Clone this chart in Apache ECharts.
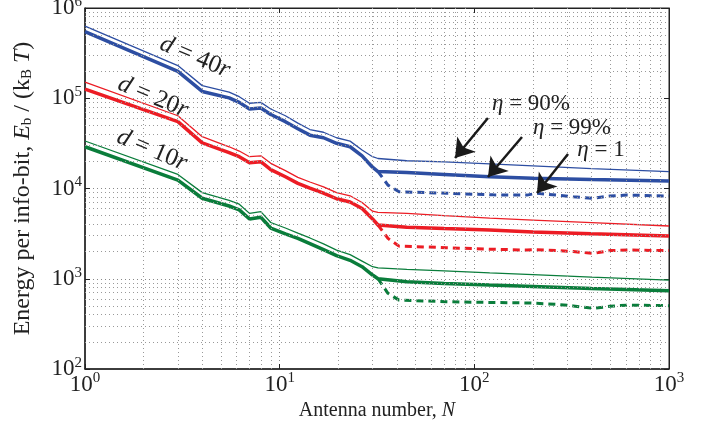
<!DOCTYPE html>
<html>
<head>
<meta charset="utf-8">
<script src="https://cdn.jsdelivr.net/npm/echarts@6/dist/echarts.min.js"></script>
<style>
  html, body { margin: 0; padding: 0; background: #fff; }
  #chart { width: 706px; height: 430px; }
</style>
</head>
<body>
<div id="chart"></div>
<script>
// antenna counts (x) for the solid curves and for the dashed (eta = 1) curves
var nSolid = [1, 3, 4, 5.5, 6.2, 7, 8, 9, 10.7, 12.4, 14.3, 16.8, 19.6, 23, 26.5, 30, 32, 45, 70, 120, 200, 400, 1000];
var nDashed = [32, 36, 41, 72, 125, 186, 209, 265, 322, 407, 497, 607, 1000];

// d = 40r
var blue99 = [546000, 198000, 119000, 101000, 90000, 76000, 78000, 66000, 55000, 46000, 39000, 36500, 31700, 29000, 23000, 17200, 15400, 15000, 14300, 13500, 13000, 12600, 12100];
var blue90 = [630000, 230000, 138000, 117000, 104000, 88000, 90000, 76000, 64000, 53000, 45000, 42000, 36500, 33500, 26700, 22500, 21500, 20300, 19700, 18700, 17800, 16600, 15400];
var blue100 = [15400, 10900, 9200, 8850, 8500, 8450, 8850, 8450, 8100, 7790, 8260, 8450, 8260];

// d = 20r
var red99 = [126000, 55000, 32000, 25000, 22500, 19300, 19800, 16200, 13500, 11400, 10100, 8900, 7700, 7100, 6000, 4600, 3940, 3720, 3600, 3470, 3300, 3150, 2980];
var red90 = [151000, 64000, 37500, 29000, 26000, 22500, 23000, 19000, 15800, 13300, 11800, 10400, 9000, 8300, 7000, 5600, 5450, 5300, 5000, 4700, 4470, 4190, 3840];
var red100 = [3940, 2800, 2300, 2210, 2120, 2080, 2100, 2050, 2000, 1910, 2050, 2080, 2050];

// d = 10r
var green99 = [29000, 12400, 7800, 6400, 5800, 4600, 4800, 3650, 3150, 2800, 2450, 2100, 1800, 1600, 1360, 1100, 1000, 925, 885, 850, 820, 780, 737];
var green90 = [33600, 14300, 9000, 7400, 6700, 5300, 5550, 4200, 3650, 3200, 2830, 2430, 2080, 1850, 1570, 1360, 1320, 1270, 1220, 1160, 1110, 1040, 968];
var green100 = [1000, 690, 580, 557, 545, 540, 535, 520, 500, 470, 495, 510, 503];

// arrows for the eta labels: [tail, head] in data coordinates
var arrows = [
    [[117.5, 60400], [79.6, 21800]],
    [[175.7, 37200], [117.5, 13400]],
    [[302.9, 24100], [209.8, 8910]]
];

var BLUE = '#2d4ea2', RED = '#ec1c24', GREEN = '#0a7d3b';
var FONT = 'Liberation Serif';
var INK = '#222';

function pairs(xs, ys) {
    return xs.map(function (x, i) { return [x, ys[i]]; });
}

// dotted minor grid lines at 2..9 x 10^k
var xMinor = [], yMinor = [];
for (var k = 0; k < 3; k++) for (var m = 2; m <= 9; m++) xMinor.push({ xAxis: m * Math.pow(10, k) });
for (var k = 2; k < 6; k++) for (var m = 2; m <= 9; m++) yMinor.push({ yAxis: m * Math.pow(10, k) });

function curve(name, ys, xs, color, width, dashed) {
    return {
        name: name,
        type: 'line',
        data: pairs(xs, ys),
        showSymbol: false,
        symbol: 'none',
        z: 3,
        lineStyle: { color: color, width: width, type: dashed ? [7, 5] : 'solid' }
    };
}

function label(x, y, text, size, rot) {
    return {
        type: 'text', x: x, y: y, rotation: rot || 0, z: 10,
        style: {
            text: text, fontFamily: FONT, fontSize: size, fill: INK,
            align: 'center', verticalAlign: 'middle',
            rich: { i: { fontFamily: FONT, fontStyle: 'italic', fontSize: size, fill: INK } }
        }
    };
}

var tickLabel = {
    fontFamily: FONT,
    fontSize: 23,
    color: INK,
    formatter: function (v) {
        return '10{s|' + Math.round(Math.log10(v)) + '}';
    },
    rich: {
        s: { fontFamily: FONT, fontSize: 15, color: INK, padding: [0, 0, 12, 0] }
    }
};

var myChart = echarts.init(document.getElementById('chart'));
var option = {
    animation: false,
    grid: { left: 85, right: 37, top: 8, bottom: 61, show: true, borderColor: INK, borderWidth: 1, outerBoundsMode: 'none' },
    xAxis: [{
        type: 'log', min: 1, max: 1000,
        name: 'Antenna number, {i|N}',
        nameLocation: 'middle', nameGap: 27,
        nameTextStyle: { fontFamily: FONT, fontSize: 20, color: INK, rich: { i: { fontFamily: FONT, fontStyle: 'italic', fontSize: 20, color: INK } } },
        axisLine: { lineStyle: { color: INK, width: 1.5 } },
        axisTick: { inside: true, length: 5, lineStyle: { color: INK } },
        axisLabel: Object.assign({ margin: 2 }, tickLabel),
        splitLine: { show: true, lineStyle: { color: '#888', type: [1, 3] } }
    }, {
        type: 'log', min: 1, max: 1000, position: 'top',
        axisLine: { lineStyle: { color: INK } },
        axisTick: { inside: true, length: 5, lineStyle: { color: INK } },
        axisLabel: { show: false }, splitLine: { show: false }
    }],
    yAxis: [{
        type: 'log', min: 100, max: 1000000,
        name: 'Energy per info-bit, {i|E}{sub|b} / (k{sub|B}{i| T})',
        nameLocation: 'middle', nameGap: 50, nameRotate: 90,
        nameTextStyle: {
            fontFamily: FONT, fontSize: 24, color: INK,
            rich: {
                i: { fontFamily: FONT, fontStyle: 'italic', fontSize: 24, color: INK },
                sub: { fontFamily: FONT, fontSize: 15, color: INK, padding: [10, 0, 0, 0] }
            }
        },
        axisLine: { lineStyle: { color: INK, width: 1.5 } },
        axisTick: { inside: true, length: 5, lineStyle: { color: INK } },
        axisLabel: Object.assign({ margin: 3 }, tickLabel),
        splitLine: { show: true, lineStyle: { color: '#888', type: [1, 3] } }
    }, {
        type: 'log', min: 100, max: 1000000, position: 'right',
        axisLine: { lineStyle: { color: INK } },
        axisTick: { inside: true, length: 5, lineStyle: { color: INK } },
        axisLabel: { show: false }, splitLine: { show: false }
    }],
    series: [
        {
            // minor grid
            name: 'grid', type: 'line', data: [[1, 100]], showSymbol: false,
            lineStyle: { opacity: 0 }, z: 1, silent: true,
            markLine: {
                silent: true, symbol: ['none', 'none'], label: { show: false },
                lineStyle: { color: '#999', type: [1, 3], width: 1 },
                emphasis: { disabled: true },
                data: xMinor.concat(yMinor)
            }
        },
        curve('40r 90%', blue90, nSolid, BLUE, 1.3),
        curve('40r 99%', blue99, nSolid, BLUE, 3.5),
        curve('40r 1', blue100, nDashed, BLUE, 3, true),
        curve('20r 90%', red90, nSolid, RED, 1.3),
        curve('20r 99%', red99, nSolid, RED, 3.5),
        curve('20r 1', red100, nDashed, RED, 3, true),
        curve('10r 90%', green90, nSolid, GREEN, 1.3),
        curve('10r 99%', green99, nSolid, GREEN, 3.5),
        curve('10r 1', green100, nDashed, GREEN, 3, true),
        {
            // arrows pointing to the eta curves
            name: 'arrows', type: 'line', data: [[1, 100]], showSymbol: false,
            lineStyle: { opacity: 0 }, z: 5, silent: true,
            markLine: {
                silent: true, symbol: ['none', 'arrow'], symbolSize: 18,
                label: { show: false },
                lineStyle: { color: '#1a1a1a', type: 'solid', width: 2.5 },
                emphasis: { disabled: true },
                data: arrows.map(function (a) { return [{ coord: a[0] }, { coord: a[1] }]; })
            }
        }
    ],
    graphic: [
        label(195, 57, '{i|d} = 40{i|r}', 25, -0.4),
        label(153, 97, '{i|d} = 20{i|r}', 25, -0.4),
        label(152, 150, '{i|d} = 10{i|r}', 25, -0.4),
        label(531, 104, '{i|η} = 90%', 23),
        label(572, 128, '{i|η} = 99%', 23),
        label(601, 150, '{i|η} = 1', 23)
    ]
};

myChart.setOption(option);
</script>
</body>
</html>
